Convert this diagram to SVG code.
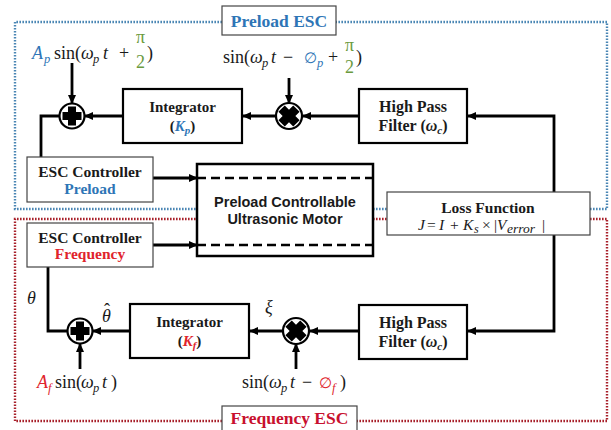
<svg xmlns="http://www.w3.org/2000/svg" width="611" height="430" viewBox="0 0 611 430">
<defs>
<marker id="ah" viewBox="0 0 10 10" refX="9" refY="5" markerWidth="9" markerHeight="9" markerUnits="userSpaceOnUse" orient="auto">
<path d="M0,0.5 L10,5 L0,9.5 z" fill="#000"/>
</marker>
<g id="plus"><circle r="12.5" fill="#fff" stroke="#000" stroke-width="2.2"/><path d="M-4,-9.5 h8 v5.5 h5.5 v8 h-5.5 v5.5 h-8 v-5.5 h-5.5 v-8 h5.5z" fill="#000"/></g>
<g id="times"><circle r="13" fill="#fff" stroke="#000" stroke-width="2.2"/><path d="M-4.5,-10.5 h9 v6 h6 v9 h-6 v6 h-9 v-6 h-6 v-9 h6z" fill="#000" transform="rotate(45)"/></g>
</defs>
<style>
.b{font-family:"Liberation Serif",serif;font-weight:bold;font-size:15.5px;fill:#1a1a1a;text-anchor:middle}
.m{font-family:"Liberation Serif",serif;font-size:18px;fill:#1a1a1a}
.i{font-style:italic}
.s{font-size:12.5px;font-style:italic}
.e{font-size:15px}
.blue{fill:#2E75B6}
.red{fill:#E0242C}
.grn{fill:#6A9A3E}
.box{fill:#fff;stroke:#000;stroke-width:2.2}
.gbox{fill:#fff;stroke:#444;stroke-width:1.2}
.ln{fill:none;stroke:#000;stroke-width:2.8}
.arr{fill:none;stroke:#000;stroke-width:2.8;marker-end:url(#ah)}
.bd{fill:none;stroke:#4A86B4;stroke-width:2.4;stroke-dasharray:1.6 1.4}
.rd{fill:none;stroke:#A8202A;stroke-width:2.4;stroke-dasharray:1.6 1.4}
</style>

<g id="regions">
<path class="bd" d="M222,22 H15 V209 H197 M373,209 H387 M590,209 H607 V22 H336"/>
<path class="rd" d="M222,421 H15 V219 H197 M373,219 H387 M590,219 H607 V421 H357"/>
<g id="label-preload-esc">
<rect x="222" y="6" width="114" height="29" class="gbox"/>
<text x="279" y="27" class="b blue" style="font-size:17.5px">Preload ESC</text>
</g>
<g id="label-frequency-esc">
<rect x="222" y="406" width="135" height="28" class="gbox"/>
<text x="289.5" y="424" class="b" style="font-size:17.5px;fill:#C8102E">Frequency ESC</text>
</g>
</g>

<g id="connectors">
<path class="arr" d="M554,192 V116 H468"/>
<path class="arr" d="M359,116 H303"/>
<path class="arr" d="M276,116 H243"/>
<path class="arr" d="M123,116 H85"/>
<path class="ln" d="M60,116 H41 V157"/>
<path class="arr" d="M72,63 V103"/>
<path class="arr" d="M289,78 V103"/>
<path class="arr" d="M153,178 H197"/>
<path class="arr" d="M153,245 H197"/>
<path class="arr" d="M554,235 V331 H468"/>
<path class="arr" d="M359,331 H310"/>
<path class="arr" d="M283,331 H250"/>
<path class="arr" d="M130,331 H93"/>
<path class="ln" d="M48,267 V331 H67"/>
<path class="arr" d="M80,369 V344"/>
<path class="arr" d="M296,369 V344"/>
</g>

<g id="sum-preload"><use href="#plus" x="72" y="116"/></g>
<g id="mult-preload"><use href="#times" x="289" y="116"/></g>
<g id="sum-frequency"><use href="#plus" x="80" y="331"/></g>
<g id="mult-frequency"><use href="#times" x="296" y="331"/></g>

<g id="integrator-preload">
<rect x="123" y="89" width="119" height="54" class="box"/>
<text x="182.5" y="112" class="b" style="font-size:15px">Integrator</text>
<text x="182.5" y="131" class="b" style="font-size:15px">(<tspan class="blue" font-style="italic">K</tspan><tspan class="blue" font-style="italic" font-size="11" dy="3">p</tspan><tspan dy="-3">)</tspan></text>
</g>

<g id="hpf-preload">
<rect x="359" y="89" width="108" height="54" class="box"/>
<text x="413" y="112" class="b" style="font-size:16px">High Pass</text>
<text x="413" y="131" class="b" style="font-size:16px">Filter (<tspan font-style="italic">ω</tspan><tspan font-style="italic" font-size="11" dy="3">c</tspan><tspan dy="-3">)</tspan></text>
</g>

<g id="esc-preload">
<rect x="27" y="157" width="126" height="45" class="gbox"/>
<text x="90" y="177" class="b">ESC Controller</text>
<text x="90" y="194" class="b blue">Preload</text>
</g>

<g id="esc-frequency">
<rect x="27" y="223" width="126" height="44" class="gbox"/>
<text x="90" y="243" class="b">ESC Controller</text>
<text x="90" y="259" class="b red">Frequency</text>
</g>

<g id="motor">
<rect x="197" y="164" width="176" height="92" fill="#fff" stroke="#000" stroke-width="2.5"/>
<path d="M197,178 H373 M197,245 H373" stroke="#000" stroke-width="2.5" stroke-dasharray="9 5"/>
<text x="285" y="207" style="font-family:'Liberation Sans',Arial,sans-serif;font-weight:bold;font-size:14.5px;text-anchor:middle;fill:#1a1a1a">Preload Controllable</text>
<text x="285" y="224" style="font-family:'Liberation Sans',Arial,sans-serif;font-weight:bold;font-size:14.5px;text-anchor:middle;fill:#1a1a1a">Ultrasonic Motor</text>
</g>

<g id="loss-function">
<rect x="387" y="192" width="203" height="43" class="gbox"/>
<text x="488" y="213" class="b">Loss Function</text>
<text class="m" style="font-size:15.5px"><tspan x="418" y="230" class="i">J</tspan><tspan x="427" y="230">=</tspan><tspan x="439" y="230" class="i">I</tspan><tspan x="450" y="230">+</tspan><tspan x="463" y="230" class="i">K</tspan><tspan x="474" y="233" class="i" font-size="12">s</tspan><tspan x="482" y="230">×</tspan><tspan x="494" y="230">|</tspan><tspan x="497" y="230" class="i">V</tspan><tspan x="507" y="233" class="i" font-size="13.5">error</tspan><tspan x="542" y="230">|</tspan></text>
</g>

<g id="hpf-frequency">
<rect x="359" y="305" width="108" height="54" class="box"/>
<text x="413" y="328" class="b" style="font-size:16px">High Pass</text>
<text x="413" y="347" class="b" style="font-size:16px">Filter (<tspan font-style="italic">ω</tspan><tspan font-style="italic" font-size="11" dy="3">c</tspan><tspan dy="-3">)</tspan></text>
</g>

<g id="integrator-frequency">
<rect x="130" y="304" width="119" height="54" class="box"/>
<text x="189.5" y="327" class="b" style="font-size:15px">Integrator</text>
<text x="189.5" y="346" class="b" style="font-size:15px">(<tspan class="red" font-style="italic">K</tspan><tspan class="red" font-style="italic" font-size="11" dy="3">f</tspan><tspan dy="-3">)</tspan></text>
</g>

<g id="labels">
<text class="m"><tspan x="32" y="59" class="i blue">A</tspan><tspan x="44" y="63" class="s blue">p</tspan><tspan x="54" y="59">sin(</tspan><tspan x="81" y="59" class="i">ω</tspan><tspan x="93" y="63" class="s">p</tspan><tspan x="103" y="59" class="i">t</tspan><tspan x="119" y="59">+</tspan><tspan x="136" y="43" class="grn">π</tspan><tspan x="136" y="68" class="grn">2</tspan><tspan x="147" y="59">)</tspan></text>
<text class="m"><tspan x="223" y="63">sin(</tspan><tspan x="250" y="63" class="i">ω</tspan><tspan x="262" y="67" class="s">p</tspan><tspan x="271" y="63" class="i">t</tspan><tspan x="283" y="63">−</tspan><tspan x="304" y="63" class="e blue">∅</tspan><tspan x="317" y="67" class="s blue">p</tspan><tspan x="328" y="63">+</tspan><tspan x="345" y="51" class="grn">π</tspan><tspan x="345" y="73" class="grn">2</tspan><tspan x="356" y="63">)</tspan></text>
<text class="m"><tspan x="37" y="388" class="i red">A</tspan><tspan x="48" y="392" class="s red">f</tspan><tspan x="55" y="388">sin(</tspan><tspan x="81" y="388" class="i">ω</tspan><tspan x="93" y="392" class="s">p</tspan><tspan x="102" y="388" class="i">t</tspan><tspan x="111" y="388">)</tspan></text>
<text class="m"><tspan x="242" y="388">sin(</tspan><tspan x="269" y="388" class="i">ω</tspan><tspan x="281" y="392" class="s">p</tspan><tspan x="290" y="388" class="i">t</tspan><tspan x="302" y="388">−</tspan><tspan x="319" y="388" class="e red">∅</tspan><tspan x="332" y="392" class="s red">f</tspan><tspan x="340" y="388">)</tspan></text>
<text x="27" y="304" class="m i">θ</text>
<text x="102" y="322" class="m i">θ</text>
<text x="104" y="316" class="m">ˆ</text>
<text x="265" y="313" class="m i">ξ</text>
</g>
</svg>
